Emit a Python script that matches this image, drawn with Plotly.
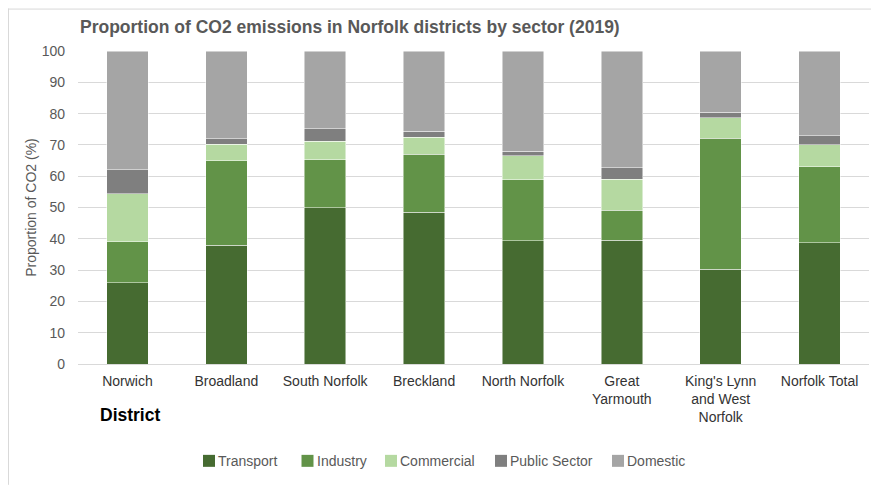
import plotly.graph_objects as go

districts = ["Norwich", "Broadland", "South Norfolk", "Breckland", "North Norfolk",
             "Great<br>Yarmouth", "King's Lynn<br>and West<br>Norfolk", "Norfolk Total"]
transport = [26.0, 37.9, 50.0, 48.5, 39.3, 39.5, 30.2, 38.8]
industry = [13.1, 27.0, 15.2, 18.5, 19.5, 9.7, 42.0, 24.2]
commercial = [15.3, 5.3, 6.0, 5.5, 7.7, 9.8, 6.4, 7.1]
public_sector = [7.6, 1.7, 3.9, 1.8, 1.5, 3.7, 1.8, 2.8]
domestic = [38.0, 28.1, 24.9, 25.7, 32.0, 37.3, 19.6, 27.1]

series_names = ["Transport", "Industry", "Commercial", "Public Sector", "Domestic"]
series_values = [transport, industry, commercial, public_sector, domestic]
series_colors = ["#466B31", "#629348", "#B5D9A1", "#7F7F7F", "#A5A5A5"]

# page body has an 8px margin; work in reference page pixels and convert
OFF = 8
W, H = 879 - OFF, 485 - OFF
L, T = 78 - OFF, 50.5 - OFF
PR, PB = 869 - OFF, 364 - OFF
PW, PH = PR - L, PB - T


def px(x):
    return (x - OFF - L) / PW


def py(y):
    return (PB - (y - OFF)) / PH


fig = go.Figure()
for name, vals, col in zip(series_names, series_values, series_colors):
    fig.add_trace(go.Bar(x=districts, y=vals, name=name, marker_color=col, showlegend=False,
                         marker_line_color="rgba(255,255,255,0.6)", marker_line_width=0.8))

font = "Liberation Sans, Arial, sans-serif"

annotations = [dict(text="<b>District</b>", xref="paper", yref="paper",
                    x=px(129.5), y=py(415), xanchor="center", yanchor="middle",
                    showarrow=False, font=dict(size=17.5, color="#000000", family=font))]
shapes = [
    dict(type="line", xref="paper", yref="paper", x0=px(OFF + 0.5), x1=px(OFF + 0.5),
         y0=py(OFF), y1=py(H + OFF), line=dict(color="#D9D9D9", width=1), layer="below"),
    dict(type="line", xref="paper", yref="paper", x0=px(OFF), x1=px(W + OFF),
         y0=py(OFF + 0.5), y1=py(OFF + 0.5), line=dict(color="#D9D9D9", width=1), layer="below"),
]
legend_x = [203, 301.5, 385, 495, 612]
for name, col, lx in zip(series_names, series_colors, legend_x):
    shapes.append(dict(type="rect", xref="paper", yref="paper", x0=px(lx), x1=px(lx + 12),
                       y0=py(467), y1=py(455), fillcolor=col, line=dict(width=0)))
    annotations.append(dict(text=name, xref="paper", yref="paper", x=px(lx + 13), y=py(461),
                            xanchor="left", yanchor="middle", showarrow=False,
                            font=dict(size=14, color="#595959", family=font)))

fig.update_layout(
    barmode="stack",
    bargap=0.58,
    width=W, height=H,
    paper_bgcolor="white", plot_bgcolor="white",
    margin=dict(l=L, r=W - PR, t=T, b=H - PB, autoexpand=False),
    font=dict(family=font, size=14, color="#595959"),
    showlegend=False,
    title=dict(text="<b>Proportion of CO2 emissions in Norfolk districts by sector (2019)</b>",
               x=(80 - OFF) / W, xanchor="left", y=1 - (27 - OFF) / H, yanchor="middle",
               font=dict(size=17.5, color="#595959", family=font)),
    yaxis=dict(range=[0, 100], dtick=10, showgrid=True, gridcolor="#D9D9D9", gridwidth=1,
               zeroline=False, showline=False, ticks="", ticklabelstandoff=12, automargin=False,
               title=dict(text="Proportion of CO2 (%)", font=dict(size=14, color="#595959"), standoff=1),
               tickfont=dict(size=14, color="#595959")),
    xaxis=dict(showline=True, linecolor="#D9D9D9", linewidth=1, ticks="", automargin=False,
               ticklabelstandoff=4, tickfont=dict(size=14, color="#333333")),
    annotations=annotations,
    shapes=shapes,
)

fig.write_html("out.html")
